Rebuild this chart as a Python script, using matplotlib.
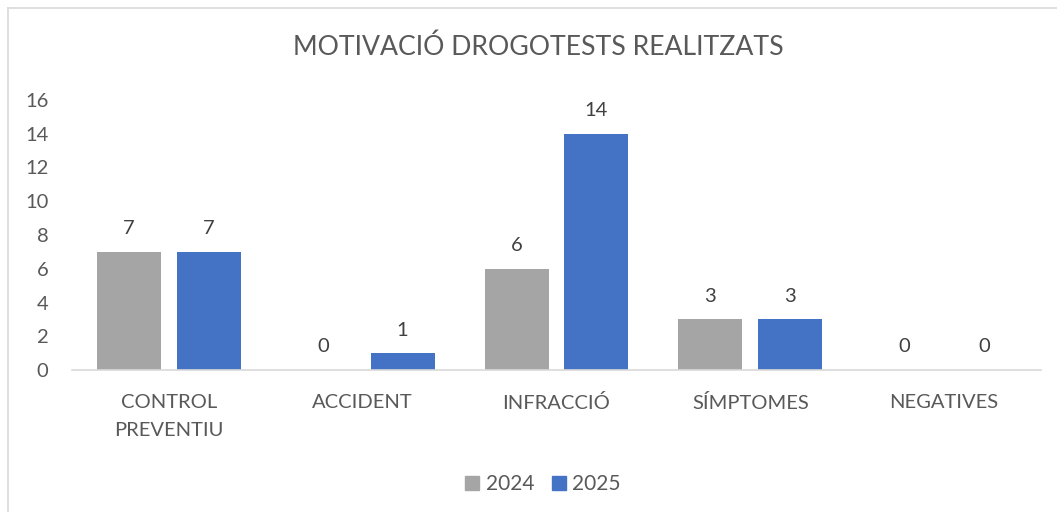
import matplotlib
matplotlib.use("Agg")
import matplotlib.pyplot as plt
from matplotlib.lines import Line2D
import numpy as np

categories = ["CONTROL\nPREVENTIU", "ACCIDENT", "INFRACCIÓ", "SÍMPTOMES", "NEGATIVES"]
series_names = ["2024", "2025"]
values_2024 = [7, 0, 6, 3, 0]
values_2025 = [7, 1, 14, 3, 0]
yticks = [0, 2, 4, 6, 8, 10, 12, 14, 16]
title = "MOTIVACIÓ DROGOTESTS REALITZATS"

colors = ["#A5A5A5", "#4472C4"]
text_color = "#595959"
label_color = "#404040"

plt.rcParams['font.family'] = ['Lato', 'DejaVu Sans']

fig = plt.figure(figsize=(10.57, 5.12), dpi=100)
ax = fig.add_axes([72/1057, 1-370/512, (1041-72)/1057, 270/512])

x = np.arange(len(categories))
w = 0.33
off = 0.206
for vals, c, o, name in [(values_2024, colors[0], -off, series_names[0]),
                         (values_2025, colors[1], off, series_names[1])]:
    bars = ax.bar(x + o, vals, width=w, color=c, label=name)
    for xi, v in zip(x + o, vals):
        ax.annotate(str(v), (xi, v), xytext=(0, 10.5), textcoords="offset points",
                    ha="center", va="bottom", fontsize=14.5, color=label_color)

ax.set_xlim(-0.5, len(categories) - 0.5)
ax.set_ylim(0, 16)
ax.set_yticks(yticks)
ax.set_xticks(x)
ax.set_xticklabels(categories, fontsize=14.5, color=text_color, linespacing=1.78)
ax.tick_params(axis='y', labelsize=14.5, labelcolor=text_color, length=0, pad=17)
ax.tick_params(axis='x', length=0, pad=17)
for s in ["top", "right", "left"]:
    ax.spines[s].set_visible(False)
ax.spines["bottom"].set_color("#D9D9D9")
ax.spines["bottom"].set_linewidth(1.2)

fig.text(538/1057, 1-47/512, title, ha="center", va="center", fontsize=19.2, color=text_color)

handles = [plt.Rectangle((0, 0), 1, 1, color=c) for c in colors]
fig.legend(handles, series_names, loc="center", bbox_to_anchor=(543/1057, 1-484/512),
           ncol=2, frameon=False, fontsize=15, labelcolor=text_color,
           handlelength=0.68, handleheight=0.68, handletextpad=0.3, columnspacing=0.85)

# chart border (top and left visible)
fig.add_artist(Line2D([8/1057, 1], [1-8/512, 1-8/512], color="#D9D9D9", lw=1.2, transform=fig.transFigure))
fig.add_artist(Line2D([8/1057, 8/1057], [0, 1-8/512], color="#D9D9D9", lw=1.2, transform=fig.transFigure))

fig.savefig("out.png", dpi=100)
